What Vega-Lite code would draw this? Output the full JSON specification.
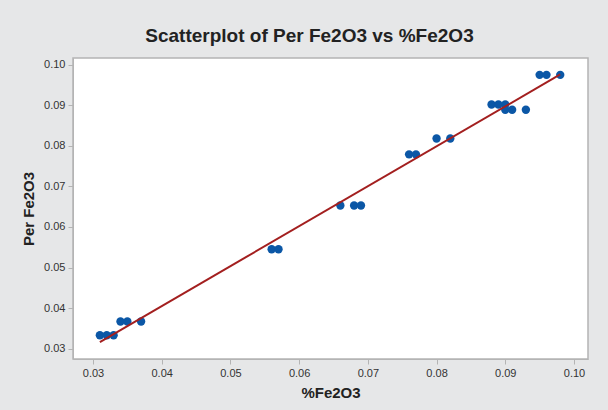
{
  "$schema": "https://vega.github.io/schema/vega-lite/v6.json",
  "autosize": {"type": "none"},
  "width": 515,
  "height": 301,
  "padding": {"left": 73, "top": 58, "right": 20, "bottom": 51},
  "background": "#E6E7E8",
  "config": {
    "view": {"fill": "white", "stroke": "#B4B4B4", "strokeWidth": 1.5},
    "font": "Liberation Sans",
    "axis": {
      "grid": false,
      "domainColor": "#B4B4B4",
      "tickColor": "#B4B4B4",
      "tickSize": 5,
      "labelFontSize": 11,
      "labelColor": "#333333",
      "titleFontSize": 15,
      "titleFontWeight": "bold",
      "titleColor": "#222222",
      "labelFont": "Liberation Sans",
      "titleFont": "Liberation Sans"
    }
  },
  "title": {
    "text": "Scatterplot of Per Fe2O3 vs %Fe2O3",
    "fontSize": 19,
    "fontWeight": "bold",
    "font": "Liberation Sans",
    "color": "#222222",
    "anchor": "middle",
    "baseline": "alphabetic",
    "offset": 16,
    "dx": -21,
    "dy": 19
  },
  "data": {
    "values": [
      {"pct": 0.031, "per": 0.0333},
      {"pct": 0.032, "per": 0.0333},
      {"pct": 0.033, "per": 0.0333},
      {"pct": 0.034, "per": 0.0367},
      {"pct": 0.035, "per": 0.0367},
      {"pct": 0.037, "per": 0.0367},
      {"pct": 0.056, "per": 0.0545},
      {"pct": 0.057, "per": 0.0545},
      {"pct": 0.066, "per": 0.0653},
      {"pct": 0.068, "per": 0.0653},
      {"pct": 0.069, "per": 0.0653},
      {"pct": 0.076, "per": 0.0779},
      {"pct": 0.077, "per": 0.0779},
      {"pct": 0.080, "per": 0.0818},
      {"pct": 0.082, "per": 0.0818},
      {"pct": 0.088, "per": 0.0902},
      {"pct": 0.089, "per": 0.0902},
      {"pct": 0.090, "per": 0.0902},
      {"pct": 0.090, "per": 0.0889},
      {"pct": 0.091, "per": 0.0889},
      {"pct": 0.093, "per": 0.0889},
      {"pct": 0.095, "per": 0.0975},
      {"pct": 0.096, "per": 0.0975},
      {"pct": 0.098, "per": 0.0975}
    ]
  },
  "encoding": {
    "x": {
      "field": "pct", "type": "quantitative", "title": "%Fe2O3",
      "scale": {"domain": [0.02709, 0.10204], "nice": false, "zero": false},
      "axis": {"values": [0.03, 0.04, 0.05, 0.06, 0.07, 0.08, 0.09, 0.10], "format": ".2f", "labelPadding": 3, "titlePadding": 7}
    },
    "y": {
      "field": "per", "type": "quantitative", "title": "Per Fe2O3",
      "scale": {"domain": [0.02746, 0.10165], "nice": false, "zero": false},
      "axis": {"values": [0.03, 0.04, 0.05, 0.06, 0.07, 0.08, 0.09, 0.10], "format": ".2f", "labelPadding": 3, "titlePadding": 7}
    }
  },
  "layer": [
    {
      "mark": {"type": "point", "filled": true, "shape": "circle", "size": 70, "color": "#0B57A6", "opacity": 1}
    },
    {
      "transform": [{"regression": "per", "on": "pct"}],
      "mark": {"type": "line", "color": "#A31F1F", "strokeWidth": 2}
    }
  ]
}
